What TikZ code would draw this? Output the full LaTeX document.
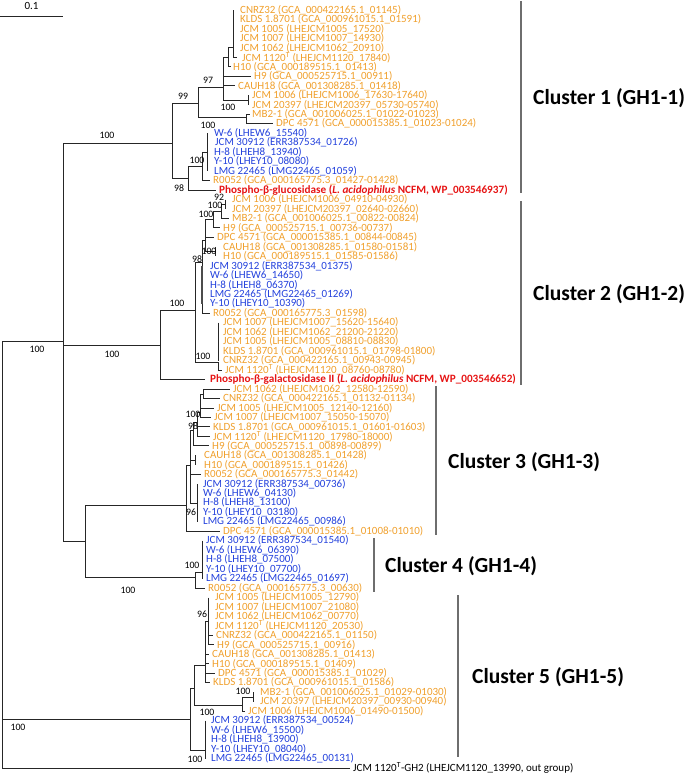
\documentclass[tikz,border=0pt]{standalone}
\usepackage{fontspec}
\setmainfont{Carlito}
\definecolor{orn}{RGB}{240,160,45}
\definecolor{blu}{RGB}{35,65,220}
\definecolor{rd}{RGB}{230,20,20}
\definecolor{bar}{RGB}{110,110,110}
\newcommand\lf[5]{\node[leaf,text=#1] (#2) at (#3,#4) {#5};}
\newcommand\Tm{\textsuperscript{T}}
\begin{document}
\begin{tikzpicture}[x=1pt,y=-1pt,
  leaf/.style={anchor=west,inner sep=0pt,font=\fontsize{11}{11}\selectfont},
  redleaf/.style={font=\fontsize{11.2}{11}\selectfont\bfseries},
  br/.style={draw=black!85,line width=0.85pt},
  thick br/.style={draw=black!70,line width=2.2pt},
  bs/.style={inner sep=0pt,font=\fontsize{9.8}{10}\selectfont},
  clbar/.style={draw=bar,line width=1.1pt},
  cllab/.style={anchor=west,inner sep=0pt,font=\fontsize{21.5}{22}\selectfont\bfseries}]
\useasboundingbox (0,0) rectangle (689,774);
% scale bar
\coordinate (sb1) at (0,16); \coordinate (sb2) at (63,16);
\draw[br] (sb1) -- (sb2);
\node[bs,font=\fontsize{11}{11}\selectfont] (sbl) at (31.5,6) {0.1};
% ---------------- Cluster 1 leaves
\lf{orn}{a0}{240}{10.0}{CNRZ32 (GCA\_000422165.1\_01145)}
\lf{orn}{a1}{240}{19.5}{KLDS 1.8701 (GCA\_000961015.1\_01591)}
\lf{orn}{a2}{240}{29.0}{JCM 1005 (LHEJCM1005\_17520)}
\lf{orn}{a3}{240}{38.4}{JCM 1007 (LHEJCM1007\_14930)}
\lf{orn}{a4}{240}{47.9}{JCM 1062 (LHEJCM1062\_20910)}
\lf{orn}{a5}{242}{57.4}{JCM 1120\Tm\ (LHEJCM1120\_17840)}
\lf{orn}{a6}{233}{66.9}{H10 (GCA\_000189515.1\_01413)}
\lf{orn}{a7}{254}{76.3}{H9 (GCA\_000525715.1\_00911)}
\lf{orn}{a8}{238}{85.8}{CAUH18 (GCA\_001308285.1\_01418)}
\lf{orn}{a9}{252}{95.3}{JCM 1006 (LHEJCM1006\_17630-17640)}
\lf{orn}{a10}{252}{104.8}{JCM 20397 (LHEJCM20397\_05730-05740)}
\lf{orn}{a11}{252}{114.2}{MB2-1 (GCA\_001006025.1\_01022-01023)}
\lf{orn}{a12}{276}{123.7}{DPC 4571 (GCA\_000015385.1\_01023-01024)}
\lf{blu}{a13}{214}{133.2}{W-6 (LHEW6\_15540)}
\lf{blu}{a14}{215}{142.7}{JCM 30912 (ERR387534\_01726)}
\lf{blu}{a15}{214}{152.1}{H-8 (LHEH8\_13940)}
\lf{blu}{a16}{214}{161.6}{Y-10 (LHEY10\_08080)}
\lf{blu}{a17}{214}{171.1}{LMG 22465 (LMG22465\_01059)}
\lf{orn}{a18}{213}{180.6}{R0052 (GCA\_000165775.3\_01427-01428)}
\node[leaf,redleaf,text=rd] (a19) at (219,190.0) {Phospho-β-glucosidase (\textit{L. acidophilus} NCFM, WP\_003546937)};
% ---------------- Cluster 2 leaves
\lf{orn}{b20}{232}{199.5}{JCM 1006 (LHEJCM1006\_04910-04930)}
\lf{orn}{b21}{232}{209.0}{JCM 20397 (LHEJCM20397\_02640-02660)}
\lf{orn}{b22}{232}{218.5}{MB2-1 (GCA\_001006025.1\_00822-00824)}
\lf{orn}{b23}{223}{227.9}{H9 (GCA\_000525715.1\_00736-00737)}
\lf{orn}{b24}{217}{237.4}{DPC 4571 (GCA\_000015385.1\_00844-00845)}
\lf{orn}{b25}{223}{246.9}{CAUH18 (GCA\_001308285.1\_01580-01581)}
\lf{orn}{b26}{223}{256.4}{H10 (GCA\_000189515.1\_01585-01586)}
\lf{blu}{b27}{210}{265.8}{JCM 30912 (ERR387534\_01375)}
\lf{blu}{b28}{210}{275.3}{W-6 (LHEW6\_14650)}
\lf{blu}{b29}{210}{284.8}{H-8 (LHEH8\_06370)}
\lf{blu}{b30}{210}{294.3}{LMG 22465 (LMG22465\_01269)}
\lf{blu}{b31}{210}{303.7}{Y-10 (LHEY10\_10390)}
\lf{orn}{b32}{213}{313.2}{R0052 (GCA\_000165775.3\_01598)}
\lf{orn}{b33}{223}{322.7}{JCM 1007 (LHEJCM1007\_15620-15640)}
\lf{orn}{b34}{223}{332.2}{JCM 1062 (LHEJCM1062\_21200-21220)}
\lf{orn}{b35}{223}{341.6}{JCM 1005 (LHEJCM1005\_08810-08830)}
\lf{orn}{b36}{223}{351.1}{KLDS 1.8701 (GCA\_000961015.1\_01798-01800)}
\lf{orn}{b37}{223}{360.6}{CNRZ32 (GCA\_000422165.1\_00943-00945)}
\lf{orn}{b38}{225}{370.1}{JCM 1120\Tm\ (LHEJCM1120\_08760-08780)}
\node[leaf,redleaf,text=rd] (b39) at (210,379.5) {Phospho-β-galactosidase II (\textit{L. acidophilus} NCFM, WP\_003546652)};
% ---------------- Cluster 3 leaves
\lf{orn}{c40}{233}{389.0}{JCM 1062 (LHEJCM1062\_12580-12590)}
\lf{orn}{c41}{223}{398.5}{CNRZ32 (GCA\_000422165.1\_01132-01134)}
\lf{orn}{c42}{217}{408.0}{JCM 1005 (LHEJCM1005\_12140-12160)}
\lf{orn}{c43}{214}{417.4}{JCM 1007 (LHEJCM1007\_15050-15070)}
\lf{orn}{c44}{213}{426.9}{KLDS 1.8701 (GCA\_000961015.1\_01601-01603)}
\lf{orn}{c45}{213}{436.4}{JCM 1120\Tm\ (LHEJCM1120\_17980-18000)}
\lf{orn}{c46}{212}{445.9}{H9 (GCA\_000525715.1\_00898-00899)}
\lf{orn}{c47}{204}{455.3}{CAUH18 (GCA\_001308285.1\_01428)}
\lf{orn}{c48}{204}{464.8}{H10 (GCA\_000189515.1\_01426)}
\lf{orn}{c49}{204}{474.3}{R0052 (GCA\_000165775.3\_01442)}
\lf{blu}{c50}{203}{483.8}{JCM 30912 (ERR387534\_00736)}
\lf{blu}{c51}{203}{493.2}{W-6 (LHEW6\_04130)}
\lf{blu}{c52}{203}{502.7}{H-8 (LHEH8\_13100)}
\lf{blu}{c53}{203}{512.2}{Y-10 (LHEY10\_03180)}
\lf{blu}{c54}{203}{521.7}{LMG 22465 (LMG22465\_00986)}
\lf{orn}{c55}{223}{531.1}{DPC 4571 (GCA\_000015385.1\_01008-01010)}
% ---------------- Cluster 4 leaves
\lf{blu}{d56}{206}{540.6}{JCM 30912 (ERR387534\_01540)}
\lf{blu}{d57}{206}{550.1}{W-6 (LHEW6\_06390)}
\lf{blu}{d58}{206}{559.6}{H-8 (LHEH8\_07500)}
\lf{blu}{d59}{206}{569.0}{Y-10 (LHEY10\_07700)}
\lf{blu}{d60}{206}{578.5}{LMG 22465 (LMG22465\_01697)}
\lf{orn}{d61}{208}{588.0}{R0052 (GCA\_000165775.3\_00630)}
% ---------------- Cluster 5 leaves
\lf{orn}{e62}{215}{597.5}{JCM 1005 (LHEJCM1005\_12790)}
\lf{orn}{e63}{215}{606.9}{JCM 1007 (LHEJCM1007\_21080)}
\lf{orn}{e64}{215}{616.4}{JCM 1062 (LHEJCM1062\_00770)}
\lf{orn}{e65}{215}{625.9}{JCM 1120\Tm\ (LHEJCM1120\_20530)}
\lf{orn}{e66}{216}{635.4}{CNRZ32 (GCA\_000422165.1\_01150)}
\lf{orn}{e67}{217}{644.8}{H9 (GCA\_000525715.1\_00916)}
\lf{orn}{e68}{212}{654.3}{CAUH18 (GCA\_001308285.1\_01413)}
\lf{orn}{e69}{212}{663.8}{H10 (GCA\_000189515.1\_01409)}
\lf{orn}{e70}{218}{673.3}{DPC 4571 (GCA\_000015385.1\_01029)}
\lf{orn}{e71}{213}{682.7}{KLDS 1.8701 (GCA\_000961015.1\_01586)}
\lf{orn}{e72}{260}{692.2}{MB2-1 (GCA\_001006025.1\_01029-01030)}
\lf{orn}{e73}{260}{701.7}{JCM 20397 (LHEJCM20397\_00930-00940)}
\lf{orn}{e74}{248}{711.2}{JCM 1006 (LHEJCM1006\_01490-01500)}
\lf{blu}{e75}{211}{720.6}{JCM 30912 (ERR387534\_00524)}
\lf{blu}{e76}{211}{730.1}{W-6 (LHEW6\_15500)}
\lf{blu}{e77}{211}{739.6}{H-8 (LHEH8\_13900)}
\lf{blu}{e78}{211}{749.1}{Y-10 (LHEY10\_08040)}
\lf{blu}{e79}{211}{758.5}{LMG 22465 (LMG22465\_00131)}
\node[leaf] (og) at (353,768.0) {JCM 1120\Tm-GH2 (LHEJCM1120\_13990, out group)};
% ================= internal nodes
% backbone
\coordinate (R) at (2,341);
\coordinate (A0) at (63,341);
\coordinate (K34) at (85,541);
% cluster 1
\coordinate (C1) at (172,143);
\coordinate (X1) at (198,103);
\coordinate (N2) at (223,87);
\coordinate (N3) at (228,57);
\coordinate (T1) at (233,47);
\coordinate (V1) at (248,100);
\coordinate (W1) at (246,117);
\coordinate (P1) at (188,178);
\coordinate (Q1) at (202,166);
\coordinate (B1) at (207,152);
% cluster 2
\coordinate (Z2) at (160,345);
\coordinate (C2) at (195,310);
\coordinate (N98) at (202,262);
\coordinate (U2) at (205,240);
\coordinate (V2) at (213,219);
\coordinate (V2b) at (221,211);
\coordinate (W2) at (225,204);
\coordinate (CH2) at (215,251.5);
\coordinate (G2) at (218,362);
% cluster 3
\coordinate (C3) at (186,505);
\coordinate (M3) at (190,465);
\coordinate (S1) at (193,430);
\coordinate (S2) at (197,422);
\coordinate (S3) at (200,412);
\coordinate (S4) at (203,394);
\coordinate (CH3) at (195,460);
\coordinate (B3) at (197,503);
% cluster 4
\coordinate (C4) at (195,577);
\coordinate (B4) at (202,572);
% cluster 5
\coordinate (C5) at (190,719);
\coordinate (A5) at (194,688);
\coordinate (G5) at (205,665);
\coordinate (S5) at (208,621);
\coordinate (M5) at (242,705);
\coordinate (N5) at (253,697);
\coordinate (B5) at (205,750);
% ================= branches
% backbone
\draw[br] (R) -- (A0);
\draw[br] (R) |- (C5);
\draw[br] (R) |- ([xshift=-3pt]og.west);
\draw[br] (A0) |- (C1);
\draw[br] (A0) |- (K34);
\draw[br] (A0) |- (Z2);
\draw[br] (K34) |- (C3);
\draw[br] (K34) |- (C4);
% cluster 1
\draw[br] (C1) |- (X1);
\draw[br] (C1) |- (P1);
\draw[br] (X1) |- (N2);
\draw[br] (X1) |- (W1);
\draw[br] (N2) |- (N3);
\draw[br] (N2) |- ([xshift=-3pt]a7.west);
\draw[br] (N2) |- ([xshift=-3pt]a8.west);
\draw[br] (N2) |- (V1);
\draw[br] (N3) |- (T1);
\draw[br] (N3) |- ([xshift=-2pt]a6.west);
\draw[br] (T1) -- (T1 |- a0);
\draw[br] (T1) |- ([xshift=-5pt]a5.west);
\draw[br] (V1 |- a9) -- (V1 |- a10);
\draw[br] (W1) |- ([xshift=-2pt]a11.west);
\draw[br] (W1) |- ([xshift=-3pt]a12.west);
\draw[br] (P1) |- (Q1);
\draw[br] (P1) |- ([xshift=-3pt]a19.west);
\draw[br] (Q1) |- (B1);
\draw[br] (Q1) |- ([xshift=-3pt]a18.west);
\draw[br] (B1 |- a13) -- (B1 |- a17);
% cluster 2
\draw[br] (Z2) |- (C2);
\draw[br] (Z2) |- ([xshift=-5pt]b39.west);
\draw[br] (C2) |- (N98);
\draw[br] (C2) |- (G2);
\draw[br] (N98) |- (U2);
\draw[br] (N98) |- ([xshift=-3pt]b32.west);
\draw[thick br] (N98 |- b27) -- (N98 |- b31);
\draw[br] (U2) |- (V2);
\draw[br] (U2) |- ([xshift=-3pt]b24.west);
\draw[br] (U2) |- (CH2);
\draw[br] (V2) |- (V2b);
\draw[br] (V2) |- ([xshift=-3pt]b23.west);
\draw[br] (V2b) |- (W2);
\draw[br] (V2b) |- ([xshift=-3pt]b22.west);
\draw[br] (W2 |- b20) -- (W2 |- b21);
\draw[br] (CH2 |- b25) -- (CH2 |- b26);
\draw[br] (G2 |- b33) -- (G2 |- b37);
\draw[br] (G2) |- ([xshift=-3pt]b38.west);
% cluster 3
\draw[br] (C3) |- (M3);
\draw[br] (C3) |- ([xshift=-3pt]c55.west);
\draw[br] (M3) |- (S1);
\draw[br] (M3) |- (CH3);
\draw[br] (M3) |- ([xshift=-3pt]c49.west);
\draw[br] (M3) |- (B3);
\draw[br] (S1) |- (S2);
\draw[br] (S1) |- ([xshift=-3pt]c46.west);
\draw[br] (S2) |- (S3);
\draw[br] (S2) |- ([xshift=-3pt]c44.west);
\draw[br] (S2) |- ([xshift=-3pt]c45.west);
\draw[br] (S3) |- (S4);
\draw[br] (S3) |- ([xshift=-3pt]c42.west);
\draw[br] (S3) |- ([xshift=-3pt]c43.west);
\draw[br] (S4) |- ([xshift=-3pt]c40.west);
\draw[br] (S4) |- ([xshift=-3pt]c41.west);
\draw[br] (CH3 |- c47) -- (CH3 |- c48);
\draw[br] (B3 |- c50) -- (B3 |- c54);
% cluster 4
\draw[br] (C4) |- (B4);
\draw[br] (C4) |- ([xshift=-3pt]d61.west);
\draw[br] (B4 |- d56) -- (B4 |- d60);
% cluster 5
\draw[br] (C5) |- (A5);
\draw[br] (C5) |- (B5);
\draw[br] (A5) |- (G5);
\draw[br] (A5) |- (M5);
\draw[br] (G5) |- (S5);
\draw[br] (G5) |- ([xshift=-3pt]e68.west);
\draw[br] (G5) |- ([xshift=-3pt]e69.west);
\draw[br] (G5) |- ([xshift=-3pt]e70.west);
\draw[br] (G5) |- ([xshift=-3pt]e71.west);
\draw[br] (S5 |- e62) -- (S5 |- e65);
\draw[br] (S5) |- ([xshift=-3pt]e66.west);
\draw[br] (S5) |- ([xshift=-3pt]e67.west);
\draw[br] (M5) |- (N5);
\draw[br] (M5) |- ([xshift=-3pt]e74.west);
\draw[br] (N5 |- e72) -- (N5 |- e73);
\draw[br] (B5 |- e75) -- (B5 |- e79);
% ================= bootstrap labels
\node[bs] (l1) at (107,135) {100};
\node[bs] (l2) at (183,96) {99};
\node[bs] (l3) at (208,80) {97};
\node[bs] (l4) at (228,107) {100};
\node[bs] (l5) at (208,125) {100};
\node[bs] (l6) at (197,160) {100};
\node[bs] (l7) at (179,188) {98};
\node[bs] (l8) at (219,197) {92};
\node[bs] (l9) at (215,205) {100};
\node[bs] (l10) at (206,214) {100};
\node[bs] (l11) at (209,251) {100};
\node[bs] (l12) at (197,259) {98};
\node[bs] (l13) at (177,303) {100};
\node[bs] (l14) at (203,356) {100};
\node[bs] (l15) at (37,349) {100};
\node[bs] (l16) at (112,354) {100};
\node[bs] (l17) at (193,414) {100};
\node[bs] (l18) at (193,426) {98};
\node[bs] (l19) at (191,512) {96};
\node[bs] (l20) at (128,590) {100};
\node[bs] (l21) at (192,565) {100};
\node[bs] (l22) at (202,614) {96};
\node[bs] (l23) at (207,712) {100};
\node[bs] (l24) at (243,691) {100};
\node[bs] (l25) at (195,759) {100};
\node[bs] (l26) at (18,727) {100};
% ================= cluster bars and labels
\coordinate (cb1a) at (521,1); \coordinate (cb1b) at (521,193);
\coordinate (cb2a) at (521,201); \coordinate (cb2b) at (521,385);
\coordinate (cb3a) at (436,386); \coordinate (cb3b) at (436,535);
\coordinate (cb4a) at (374,538); \coordinate (cb4b) at (374,592);
\coordinate (cb5a) at (458,595); \coordinate (cb5b) at (458,757);
\draw[clbar] (cb1a) -- (cb1b);
\draw[clbar] (cb2a) -- (cb2b);
\draw[clbar] (cb3a) -- (cb3b);
\draw[clbar] (cb4a) -- (cb4b);
\draw[clbar] (cb5a) -- (cb5b);
\node[cllab] (cl1) at (533,98) {Cluster 1 (GH1-1)};
\node[cllab] (cl2) at (533,294) {Cluster 2 (GH1-2)};
\node[cllab] (cl3) at (448,462) {Cluster 3 (GH1-3)};
\node[cllab] (cl4) at (385,566) {Cluster 4 (GH1-4)};
\node[cllab] (cl5) at (472,677) {Cluster 5 (GH1-5)};
\end{tikzpicture}
\end{document}
